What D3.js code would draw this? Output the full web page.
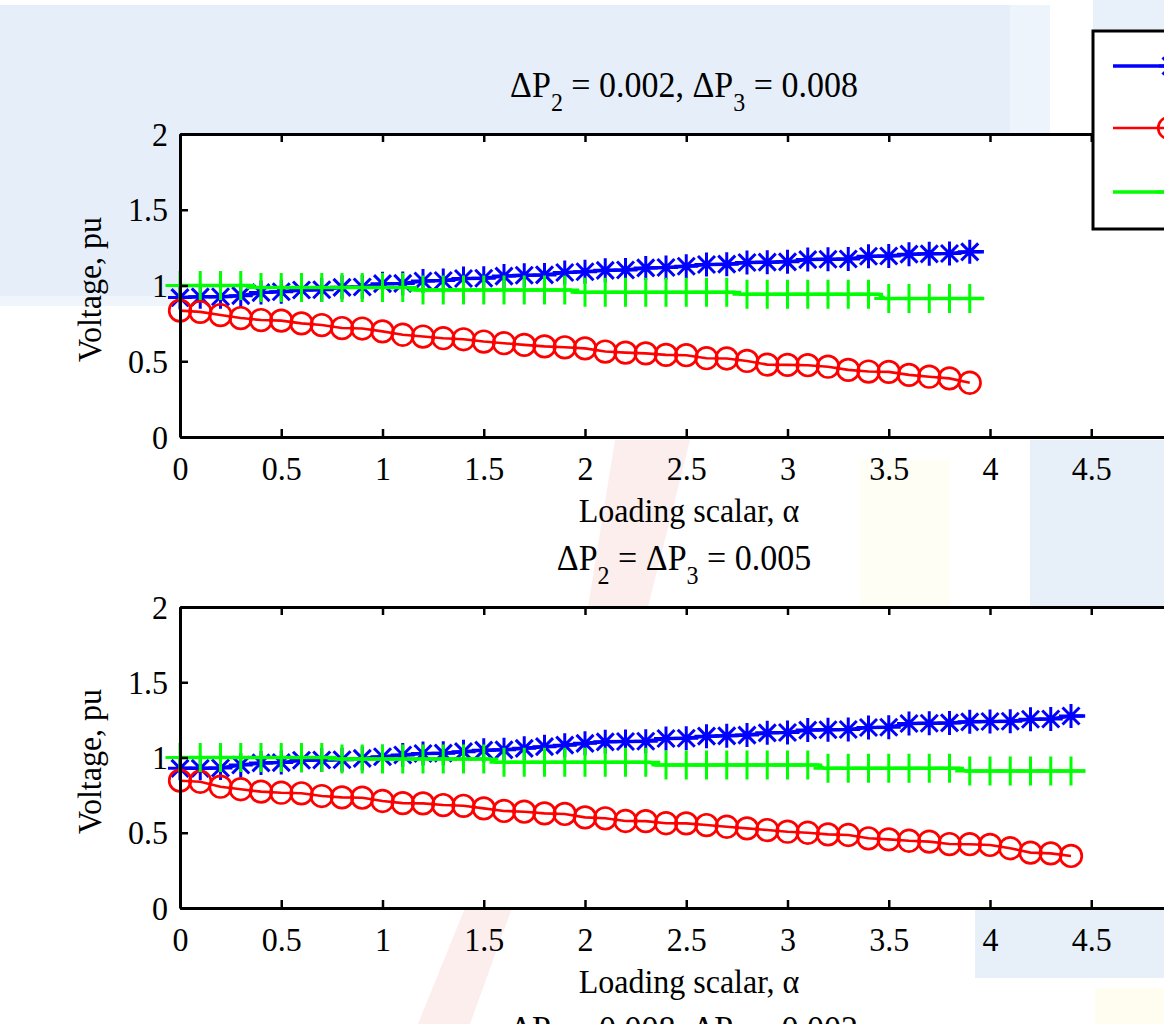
<!DOCTYPE html>
<html>
<head>
<script src="https://d3js.org/d3.v7.min.js"></script>
<style>
    body { margin:0; overflow:hidden; background:#fff; }
    svg { display:block; font-family:"Liberation Serif","Times New Roman",serif; }
</style>
</head>
<body>
<svg id="chart" width="1164" height="1024"></svg>
<script>
// ---- data ----
const alphaTop = [0,0.1,0.2,0.3,0.4,0.5,0.6,0.7,0.8,0.9,1,1.1,1.2,1.3,1.4,1.5,1.6,1.7,1.8,1.9,
                  2,2.1,2.2,2.3,2.4,2.5,2.6,2.7,2.8,2.9,3,3.1,3.2,3.3,3.4,3.5,3.6,3.7,3.8,3.9];
const alphaBottom = [0,0.1,0.2,0.3,0.4,0.5,0.6,0.7,0.8,0.9,1,1.1,1.2,1.3,1.4,1.5,1.6,1.7,1.8,1.9,
                     2,2.1,2.2,2.3,2.4,2.5,2.6,2.7,2.8,2.9,3,3.1,3.2,3.3,3.4,3.5,3.6,3.7,3.8,3.9,
                     4,4.1,4.2,4.3,4.4];

const blueTop = [0.920,0.925,0.926,0.933,0.953,0.959,0.970,0.972,0.988,0.990,
                 1.012,1.014,1.030,1.033,1.046,1.048,1.062,1.068,1.070,1.086,
                 1.091,1.100,1.102,1.116,1.119,1.127,1.139,1.141,1.152,1.154,
                 1.156,1.171,1.173,1.175,1.193,1.195,1.207,1.209,1.211,1.222];
const redTop = [0.834,0.826,0.805,0.785,0.772,0.768,0.750,0.739,0.719,0.716,
                0.697,0.675,0.663,0.652,0.645,0.630,0.619,0.608,0.598,0.592,
                0.585,0.564,0.557,0.552,0.542,0.540,0.520,0.518,0.502,0.478,
                0.476,0.474,0.464,0.443,0.432,0.430,0.410,0.398,0.387,0.358];
const greenTop = [1,1,1,1,
                  0.987,0.987,0.987,0.987,0.987,0.987,0.987,0.987,
                  0.970,0.970,0.970,0.970,0.970,0.970,0.970,0.970,
                  0.955,0.955,0.955,0.955,0.955,0.955,0.955,0.955,
                  0.942,0.942,0.942,0.942,0.942,0.942,0.942,
                  0.915,0.915,0.915,0.915,0.915];
const blueTopEnd = [3.97, 1.223];
const greenTopSteps = [[0,1],[0.35,1],[0.37,0.987],[1.14,0.987],[1.16,0.970],[1.93,0.970],
                       [1.95,0.955],[2.74,0.955],[2.77,0.942],[3.45,0.942],[3.48,0.915],[3.97,0.915]];

const blueBottom = [0.928,0.928,0.930,0.950,0.964,0.966,0.982,0.983,0.985,0.994,
                    1.005,1.017,1.027,1.029,1.039,1.049,1.051,1.061,1.072,1.082,
                    1.094,1.104,1.106,1.108,1.126,1.128,1.142,1.144,1.149,1.164,
                    1.166,1.182,1.184,1.186,1.199,1.201,1.226,1.228,1.230,1.237,
                    1.239,1.241,1.254,1.256,1.276];
const redBottom = [0.846,0.839,0.806,0.789,0.773,0.766,0.762,0.744,0.735,0.733,
                   0.711,0.697,0.695,0.684,0.679,0.662,0.645,0.640,0.629,0.625,
                   0.602,0.596,0.578,0.577,0.563,0.562,0.551,0.540,0.529,0.518,
                   0.507,0.500,0.489,0.485,0.463,0.456,0.447,0.441,0.425,0.424,
                   0.419,0.397,0.368,0.363,0.346];
const greenBottom = [1,1,1,1,1,1,1,1,
                     0.990,0.990,0.990,0.990,0.990,0.990,0.990,0.990,
                     0.969,0.969,0.969,0.969,0.969,0.969,0.969,0.969,
                     0.950,0.950,0.950,0.950,0.950,0.950,0.950,0.950,
                     0.928,0.928,0.928,0.928,0.928,0.928,0.928,
                     0.910,0.910,0.910,0.910,0.910,0.910];
const blueBottomEnd = [4.47, 1.276];
const greenBottomSteps = [[0,1],[0.75,1],[0.78,0.990],[1.53,0.990],[1.56,0.969],[2.32,0.969],
                          [2.35,0.950],[3.15,0.950],[3.18,0.928],[3.85,0.928],[3.88,0.910],[4.47,0.910]];

const xTicks = [0,0.5,1,1.5,2,2.5,3,3.5,4,4.5,5];
const xTickLabels = ['0','0.5','1','1.5','2','2.5','3','3.5','4','4.5',''];
const yTicks = [0,0.5,1,1.5,2];
const xLabel = 'Loading scalar, \u03b1';
const yLabel = 'Voltage, pu';
// title pieces: [text, isSubscript]
const titleTop = [['\u0394P',0],['2',1],[' = 0.002, \u0394P',0],['3',1],[' = 0.008',0]];
const titleBottom = [['\u0394P',0],['2',1],[' = \u0394P',0],['3',1],[' = 0.005',0]];
const titleNext = [['\u0394P',0],['2',1],[' = 0.008, \u0394P',0],['3',1],[' = 0.002',0]];

const svg = d3.select('#chart');
const FS = 32;
const SY = 1.08;   // the source is a little taller than wide

// faint background blotches behind the figure
const bg = svg.append('g');
bg.append('rect').attr('x',0).attr('y',5).attr('width',1010).attr('height',297).attr('fill','#e6eff9');
bg.append('rect').attr('x',1010).attr('y',5).attr('width',40).attr('height',130).attr('fill','#eef4fb');
bg.append('rect').attr('x',1093).attr('y',0).attr('width',71).attr('height',32).attr('fill','#e8f0f9');
bg.append('rect').attr('x',0).attr('y',296).attr('width',180).attr('height',10).attr('fill','#f0f5fb');
bg.append('polygon').attr('points','615,440 690,440 648,607 588,607').attr('fill','#fdeeee');
bg.append('rect').attr('x',860).attr('y',460).attr('width',90).attr('height',147).attr('fill','#fffef5');
bg.append('rect').attr('x',1030).attr('y',440).attr('width',134).attr('height',167).attr('fill','#e7f0f9');
bg.append('polygon').attr('points','465,908 512,908 470,1024 418,1024').attr('fill','#fdeeee');
bg.append('rect').attr('x',975).attr('y',908).attr('width',189).attr('height',70).attr('fill','#e7f0f9');
bg.append('rect').attr('x',1095).attr('y',988).attr('width',69).attr('height',36).attr('fill','#fffdf0');

// stretched serif text helper
function addText(parent, x, y, pieces, anchor, rotate, size) {
    const fs = size || FS;
    const g = parent.append('g')
        .attr('transform', `translate(${x},${y})` + (rotate ? ` rotate(${rotate})` : '') + ` scale(1,${SY})`);
    const t = g.append('text').attr('text-anchor', anchor).attr('font-size', fs).attr('fill', '#000');
    if (typeof pieces === 'string') { t.text(pieces); return; }
    pieces.forEach((p, i) => {
        const dy = p[1] ? 13 : (i === 0 ? 0 : -13);
        t.append('tspan').attr('dy', dy).attr('font-size', p[1] ? 24 : fs).text(p[0]);
    });
}

const starPath = 'M0,-12V12M-12,0H12M-8.5,-8.5L8.5,8.5M-8.5,8.5L8.5,-8.5';
const plusPath = 'M0,-14.5V14.5M-14.5,0H14.5';

function drawPanel(top, bottom, alpha, blue, blueEnd, red, green, greenSteps, title) {
    const x = d3.scaleLinear().domain([0,5]).range([180,1192.5]);
    const y = d3.scaleLinear().domain([0,2]).range([bottom, top]);
    const g = svg.append('g');

    g.append('rect').attr('x',180).attr('y',top).attr('width',1012.5).attr('height',bottom-top).attr('fill','#fff');

    const line = d3.line().x(d => x(d[0])).y(d => y(d[1]));
    const bluePts = alpha.map((a,i) => [a, blue[i]]);
    const redPts = alpha.map((a,i) => [a, red[i]]);
    const greenPts = alpha.map((a,i) => [a, green[i]]);

    // blue star
    g.append('path').attr('d', line(bluePts.concat([blueEnd]))).attr('fill','none').attr('stroke','#0000ff').attr('stroke-width',3.5);
    g.selectAll('.star').data(bluePts).join('path')
        .attr('transform', d => `translate(${x(d[0])},${y(d[1])})`)
        .attr('d', starPath).attr('stroke','#0000ff').attr('stroke-width',3).attr('fill','none');
    // red circle
    g.append('path').attr('d', line(redPts)).attr('fill','none').attr('stroke','#ff0000').attr('stroke-width',2.6);
    g.selectAll('.circ').data(redPts).join('circle')
        .attr('cx', d => x(d[0])).attr('cy', d => y(d[1])).attr('r',10.8)
        .attr('stroke','#ff0000').attr('stroke-width',2.7).attr('fill','none');
    // green plus
    g.append('path').attr('d', line(greenSteps)).attr('fill','none').attr('stroke','#00ff00').attr('stroke-width',3.5);
    g.selectAll('.plus').data(greenPts).join('path')
        .attr('transform', d => `translate(${x(d[0])},${y(d[1])})`)
        .attr('d', plusPath).attr('stroke','#00ff00').attr('stroke-width',3).attr('fill','none');

    // axes with inward ticks
    const ax = g.append('g').attr('transform', `translate(0,${bottom})`)
        .call(d3.axisBottom(x).tickValues(xTicks).tickSize(-8).tickSizeOuter(0).tickFormat((d,i) => xTickLabels[i]));
    ax.selectAll('text').attr('y',0).attr('dy',0)
        .attr('transform',`translate(0,43) scale(1,${SY})`);
    g.append('g').attr('transform', `translate(0,${top})`)
        .call(d3.axisTop(x).tickValues(xTicks).tickSize(-8).tickSizeOuter(0).tickFormat(''));
    const ay = g.append('g').attr('transform', 'translate(180,0)')
        .call(d3.axisLeft(y).tickValues(yTicks).tickSize(-8).tickSizeOuter(0).tickFormat(d => String(d)));
    ay.selectAll('text').attr('x',-12).attr('dy',0)
        .attr('transform',`translate(0,11) scale(1,${SY})`);
    g.selectAll('g').filter(function() { return this.getAttribute('font-family'); })
        .attr('font-family', null).attr('font-size', FS);
    g.selectAll('.domain').attr('stroke','#000').attr('stroke-width',3);
    g.selectAll('.tick line').attr('stroke','#000').attr('stroke-width',2.5);
    g.selectAll('.tick text').attr('fill','#000');

    addText(g, 689, bottom + 85, xLabel, 'middle');
    addText(g, 101, (top + bottom) / 2 + 4, yLabel, 'middle', -90);
    addText(g, 684, top - 37, title, 'middle', 0, 34);
}

drawPanel(134, 437, alphaTop, blueTop, blueTopEnd, redTop, greenTop, greenTopSteps, titleTop);
drawPanel(607, 908, alphaBottom, blueBottom, blueBottomEnd, redBottom, greenBottom, greenBottomSteps, titleBottom);
addText(svg, 684, 1041, titleNext, 'middle', 0, 34);

// legend (cut off by the right edge)
const lg = svg.append('g');
lg.append('rect').attr('x',1093).attr('y',31).attr('width',300).attr('height',198)
    .attr('fill','#fff').attr('stroke','#000').attr('stroke-width',3);
const legendRows = [66, 128, 192];
lg.append('line').attr('x1',1113).attr('x2',1228).attr('y1',legendRows[0]).attr('y2',legendRows[0]).attr('stroke','#0000ff').attr('stroke-width',3.5);
lg.append('path').attr('d',starPath).attr('transform',`translate(1171,${legendRows[0]})`).attr('stroke','#0000ff').attr('stroke-width',3).attr('fill','none');
lg.append('line').attr('x1',1113).attr('x2',1228).attr('y1',legendRows[1]).attr('y2',legendRows[1]).attr('stroke','#ff0000').attr('stroke-width',2.6);
lg.append('circle').attr('cx',1169).attr('cy',legendRows[1]).attr('r',10.8).attr('stroke','#ff0000').attr('stroke-width',2.7).attr('fill','none');
lg.append('line').attr('x1',1113).attr('x2',1228).attr('y1',legendRows[2]).attr('y2',legendRows[2]).attr('stroke','#00ff00').attr('stroke-width',3.5);
lg.append('path').attr('d',plusPath).attr('transform',`translate(1170,${legendRows[2]})`).attr('stroke','#00ff00').attr('stroke-width',3).attr('fill','none');
</script>
</body>
</html>
